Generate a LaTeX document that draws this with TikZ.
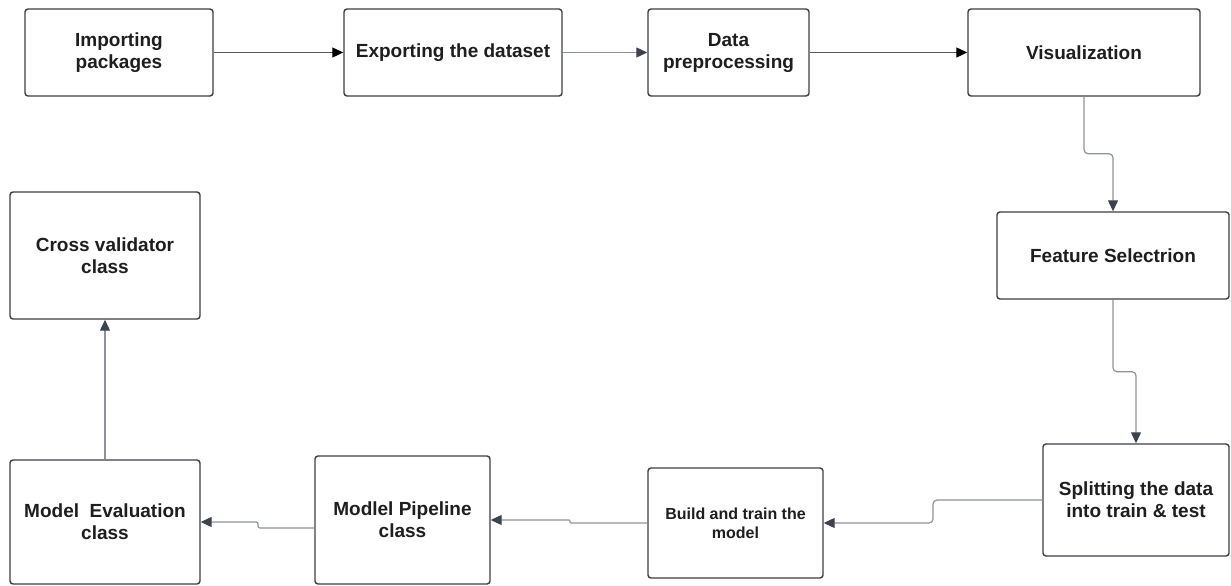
\documentclass[tikz,border=0pt]{standalone}
\usepackage{fontspec}
\setmainfont{Liberation Sans}
\usetikzlibrary{arrows.meta}
\definecolor{boxline}{HTML}{3C3F44}
\definecolor{txt}{HTML}{1E1E1E}
\definecolor{wire}{HTML}{8E939A}
\definecolor{wiredark}{HTML}{5A5A5A}
\definecolor{head}{HTML}{3D434C}
\tikzset{
  stage/.style={draw=boxline, line width=1.4pt, rounded corners=3pt, fill=white,
    align=center, text=txt, inner sep=2pt,
    font=\fontsize{19}{22}\selectfont\bfseries},
  smallstage/.style={stage, font=\fontsize{16}{19}\selectfont\bfseries},
  conn/.style={draw=wire, line width=1.2pt, rounded corners=4pt,
    -{Triangle[length=11pt,width=10pt,fill=head,color=head]}},
  conndark/.style={draw=wiredark, line width=1.1pt,
    -{Triangle[length=11pt,width=10pt,fill=black,color=black]}}
}
\begin{document}
\begin{tikzpicture}[x=1pt,y=-1pt]
\useasboundingbox (0,0) rectangle (1231,586);
% top row
\node[stage, minimum width=188pt, minimum height=87pt] (imp) at (119,52.5) {Importing\\packages};
\node[stage, minimum width=218pt, minimum height=87pt] (exp) at (453,52.5) {Exporting the dataset};
\node[stage, minimum width=161pt, minimum height=87pt] (pre) at (728.5,52.5) {Data\\preprocessing};
\node[stage, minimum width=232pt, minimum height=87pt] (vis) at (1084,52.5) {Visualization};
% right column
\node[stage, minimum width=232pt, minimum height=87pt] (feat) at (1113,255.5) {Feature Selectrion};
\node[stage, minimum width=186pt, minimum height=112pt] (split) at (1136,500) {Splitting the data\\into train \& test};
% bottom row
\node[smallstage, minimum width=175pt, minimum height=110pt] (build) at (735.5,523) {Build and train the\\model};
\node[stage, minimum width=175pt, minimum height=128pt] (pipe) at (402.5,520) {Modlel Pipeline\\class};
\node[stage, minimum width=190pt, minimum height=124pt] (eval) at (105,522) {Model\ \ Evaluation\\class};
% left column
\node[stage, minimum width=190pt, minimum height=127pt] (cross) at (105,255.5) {Cross validator\\class};

% connectors
\draw[conndark] (imp.east) -- (exp.west);
\draw[conn, rounded corners=0pt] (exp.east) -- (pre.west);
\draw[conndark] (pre.east) -- (vis.west);
\draw[conn] (vis.south) -- ++(0,57) -| (feat.north);
\draw[conn] (feat.south) -- ++(0,72) -| (split.north);
\coordinate (j6) at (933,500);
\draw[conn] (split.west) -- (j6) |- (build.east);
\coordinate (j7) at (570,523);
\draw[conn, rounded corners=1pt] (build.west) -- (j7) |- (pipe.east);
\coordinate (y8) at (0,528);
\coordinate (j8) at (258,528);
\draw[conn, rounded corners=2pt] (pipe.west |- y8) -- (j8) |- (eval.east);
\draw[conn] (eval.north) -- (cross.south);
\end{tikzpicture}
\end{document}
